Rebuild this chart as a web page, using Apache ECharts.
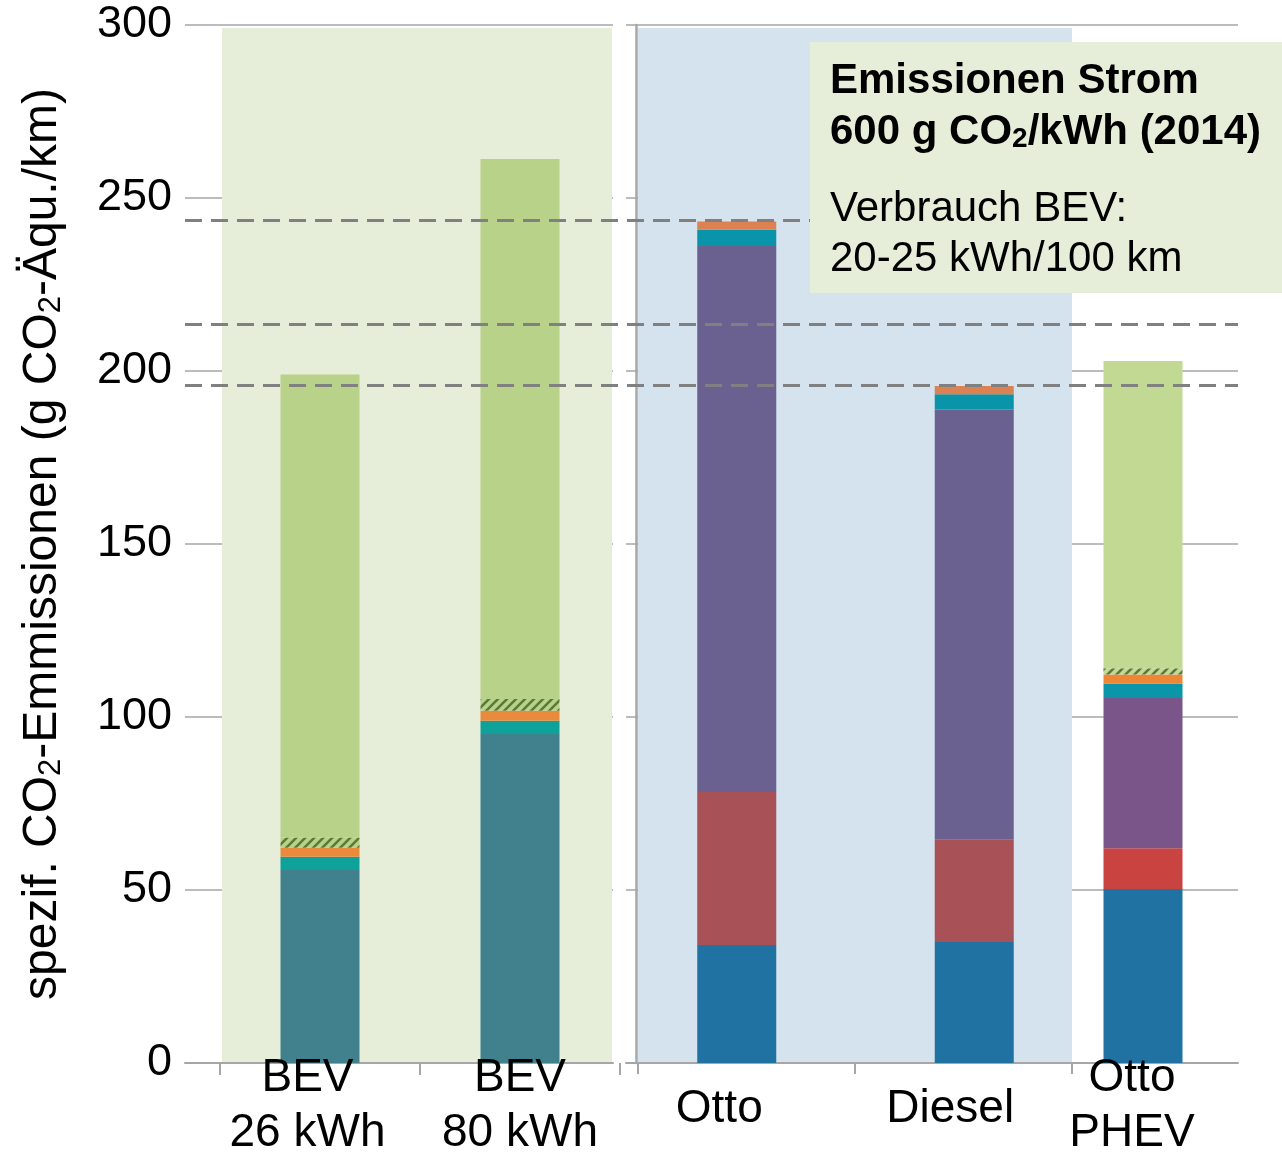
<!DOCTYPE html>
<html>
<head>
<meta charset="utf-8">
<title>spezif. CO2-Emissionen BEV / Otto / Diesel / PHEV</title>
<script src="https://cdn.jsdelivr.net/npm/echarts@6/dist/echarts.min.js"></script>
<style>
  html, body { margin: 0; padding: 0; background: #fff; }
  #chart { width: 1282px; height: 1156px; }
</style>
</head>
<body>
<div id="chart"></div>
<script>
// Kategorien
var bevCats = ['BEV\n26 kWh', 'BEV\n80 kWh'];
var iceCats = ['Otto', 'Diesel'];
var phevCats = ['Otto\nPHEV'];

// Werte in g CO2-Äqu./km, von unten nach oben gestapelt
var bevHerstellung = [55.8, 95.1];
var bevWartung = [3.8, 3.8];
var bevEntsorgung = [2.6, 2.9];
var bevSonstiges = [3.0, 3.4];   // schraffiert
var bevStrom = [133.8, 156.1];

var iceHerstellung = [34.1, 35.0];
var iceVorkette = [44.2, 29.5];
var iceVerbrennung = [157.8, 124.4];
var iceWartung = [4.7, 4.4];
var iceEntsorgung = [2.4, 2.4];

var phevHerstellung = [50.3];
var phevVorkette = [11.8];
var phevVerbrennung = [43.4];
var phevWartung = [4.2];
var phevEntsorgung = [2.6];
var phevSonstiges = [1.8];       // schraffiert
var phevStrom = [88.8];

// gestrichelte Vergleichslinien
var refLines = [243.5, 213.6, 196.0];

// y-Achse
var yMin = 0, yMax = 300, yStep = 50;

var FONT = '"Liberation Sans", Arial, sans-serif';
var GRID_COLOR = '#a6a6a6';

// Schraffur als Canvas-Muster
function hatch(bg, fg) {
	var c = document.createElement('canvas');
	c.width = 9; c.height = 9;
	var ctx = c.getContext('2d');
	ctx.fillStyle = bg;
	ctx.fillRect(0, 0, 9, 9);
	ctx.strokeStyle = fg;
	ctx.lineWidth = 2.6;
	ctx.beginPath();
	ctx.moveTo(-1, 10); ctx.lineTo(10, -1);
	ctx.moveTo(-1, 1); ctx.lineTo(1, -1);
	ctx.moveTo(8, 10); ctx.lineTo(10, 8);
	ctx.stroke();
	return { image: c, repeat: 'repeat' };
}

function bar(name, idx, stack, data, color) {
	return {
		name: name,
		type: 'bar',
		xAxisIndex: idx,
		yAxisIndex: idx,
		stack: stack,
		barWidth: 79,
		data: data,
		silent: true,
		itemStyle: { color: color }
	};
}

function hiddenY(idx) {
	return { type: 'value', gridIndex: idx, min: yMin, max: yMax, show: false };
}

var TICK = { show: true, length: 12, lineStyle: { color: GRID_COLOR, width: 2 } };

// Achsenbeschriftung mit Versatz je Kategorie
function catAxis(idx, cats, margin, pads, tick) {
	var rich = {};
	pads.forEach(function(p, i) {
		rich['s' + i] = {
			fontFamily: FONT, fontSize: 46, lineHeight: 55, color: '#000',
			padding: p
		};
	});
	return {
		type: 'category',
		gridIndex: idx,
		data: cats,
		z: 3,
		axisLine: { show: false },
		axisTick: tick || { show: false },
		splitLine: { show: false },
		axisLabel: {
			margin: margin,
			interval: 0,
			formatter: function(v, i) {
				return v.split('\n').map(function(l) { return '{s' + i + '|' + l + '}'; }).join('\n');
			},
			rich: rich
		}
	};
}

var myChart = echarts.init(document.getElementById('chart'));

var nameRich = {
	t: { fontFamily: FONT, fontSize: 48, lineHeight: 64, verticalAlign: 'bottom', color: '#000' },
	s: { fontFamily: FONT, fontSize: 31, lineHeight: 31, verticalAlign: 'bottom', color: '#000' }
};
var boxRich = {
	b: { fontFamily: FONT, fontSize: 42, fontWeight: 'bold', lineHeight: 56, verticalAlign: 'bottom', fill: '#000' },
	s: { fontFamily: FONT, fontSize: 28, fontWeight: 'bold', lineHeight: 28, verticalAlign: 'bottom', fill: '#000' }
};

var option = {
	animation: false,
	backgroundColor: '#fff',
	textStyle: { fontFamily: FONT },
	grid: [
		{ left: 185, right: 669, top: 25, bottom: 93, outerBoundsMode: 'none' },   // 0 linke Achse
		{ left: 626, right: 44, top: 25, bottom: 93, outerBoundsMode: 'none' },    // 1 rechte Achse
		{ left: 222, right: 670, top: 28, bottom: 94, show: true, z: 1, borderWidth: 0,
			backgroundColor: '#e6edd8', outerBoundsMode: 'none' },                    // 2 Hintergrund BEV
		{ left: 638, right: 210, top: 28, bottom: 94, show: true, z: 1, borderWidth: 0,
			backgroundColor: '#d4e3ed', outerBoundsMode: 'none' },                    // 3 Hintergrund Verbrenner
		{ left: 220, right: 662, top: 25, bottom: 93, outerBoundsMode: 'none' },   // 4 BEV
		{ left: 618, right: 189, top: 25, bottom: 93, outerBoundsMode: 'none' },   // 5 Otto / Diesel
		{ left: 1048, right: 44, top: 25, bottom: 93, outerBoundsMode: 'none' },   // 6 PHEV
		{ left: 185, right: 44, top: 25, bottom: 93, outerBoundsMode: 'none' }     // 7 Linien
	],
	xAxis: [
		{ type: 'value', gridIndex: 0, min: 0, max: 1, axisLabel: { show: false }, axisTick: { show: false },
			splitLine: { show: false }, axisLine: { show: true, lineStyle: { color: GRID_COLOR, width: 2 } } },
		{ type: 'value', gridIndex: 1, min: 0, max: 1, axisLabel: { show: false }, axisTick: { show: false },
			splitLine: { show: false }, axisLine: { show: true, lineStyle: { color: GRID_COLOR, width: 2 } } },
		{ type: 'category', gridIndex: 2, data: [''], show: false },
		{ type: 'category', gridIndex: 3, data: ['', ''], axisLabel: { show: false }, axisLine: { show: false },
			axisTick: TICK },
		catAxis(4, bevCats, -12, [[0, 25, 0, 0], [0, 0, 0, 0]], TICK),
		catAxis(5, iceCats, 19, [[0, 35, 0, 0], [0, 48, 0, 0]]),
		catAxis(6, phevCats, -12, [[0, 22, 0, 0]]),
		{ type: 'category', gridIndex: 7, data: [''], show: false }
	],
	yAxis: [
		{
			type: 'value', gridIndex: 0, min: yMin, max: yMax, interval: yStep,
			axisLine: { show: false }, axisTick: { show: false },
			axisLabel: { fontSize: 45, color: '#000', margin: 13, fontFamily: FONT },
			splitLine: { lineStyle: { color: GRID_COLOR, width: 1.5 } },
			name: '{t|spezif. CO}{s|2}{t|-Emmissionen (g CO}{s|2}{t|-Äqu./km)}',
			nameLocation: 'middle',
			nameRotate: 90,
			nameGap: 118,
			nameTextStyle: { rich: nameRich }
		},
		{
			type: 'value', gridIndex: 1, min: yMin, max: yMax, interval: yStep, offset: -10,
			axisLine: { show: true, lineStyle: { color: GRID_COLOR, width: 2.5 } },
			axisTick: { show: false }, axisLabel: { show: false },
			splitLine: { lineStyle: { color: GRID_COLOR, width: 1.5 } }
		},
		hiddenY(2),
		hiddenY(3),
		hiddenY(4),
		hiddenY(5),
		hiddenY(6),
		hiddenY(7)
	],
	series: [
		bar('Herstellung', 4, 'bev', bevHerstellung, '#41818e'),
		bar('Wartung', 4, 'bev', bevWartung, '#0ea29b'),
		bar('Entsorgung', 4, 'bev', bevEntsorgung, '#e98a3c'),
		bar('Sonstiges', 4, 'bev', bevSonstiges, hatch('#b9d28a', '#5b7a38')),
		bar('Strom', 4, 'bev', bevStrom, '#b9d28a'),

		bar('Herstellung', 5, 'ice', iceHerstellung, '#2072a3'),
		bar('Vorkette', 5, 'ice', iceVorkette, '#a85157'),
		bar('Verbrennung', 5, 'ice', iceVerbrennung, '#6a6191'),
		bar('Wartung', 5, 'ice', iceWartung, '#0a94a9'),
		bar('Entsorgung', 5, 'ice', iceEntsorgung, '#db8152'),

		bar('Herstellung', 6, 'phev', phevHerstellung, '#2072a3'),
		bar('Vorkette', 6, 'phev', phevVorkette, '#c94341'),
		bar('Verbrennung', 6, 'phev', phevVerbrennung, '#7a5589'),
		bar('Wartung', 6, 'phev', phevWartung, '#0a96a8'),
		bar('Entsorgung', 6, 'phev', phevEntsorgung, '#ef8636'),
		bar('Sonstiges', 6, 'phev', phevSonstiges, hatch('#c2d993', '#5b7a38')),
		bar('Strom', 6, 'phev', phevStrom, '#c2d993'),

		{
			type: 'line', xAxisIndex: 7, yAxisIndex: 7, data: [], z: 10, silent: true,
			markLine: {
				symbol: 'none', silent: true, label: { show: false },
				lineStyle: { color: '#808080', width: 3, type: [17, 9] },
				data: refLines.map(function(v) { return { yAxis: v }; })
			}
		}
	],
	graphic: [{
		type: 'group', left: 810, top: 42, z: 100,
		children: [
			{ type: 'rect', z: 100, shape: { x: 0, y: 0, width: 472, height: 251 }, style: { fill: '#e6edd8' } },
			{ type: 'text', z: 101, x: 20, y: 4, style: { text: '{b|Emissionen Strom}', rich: boxRich, verticalAlign: 'top' } },
			{ type: 'text', z: 101, x: 20, y: 55, style: { text: '{b|600 g CO}{s|2}{b|/kWh (2014)}', rich: boxRich, verticalAlign: 'top' } },
			{ type: 'text', z: 101, x: 20, y: 146, style: { text: 'Verbrauch BEV:', fontFamily: FONT, fontSize: 42, fill: '#000', verticalAlign: 'top' } },
			{ type: 'text', z: 101, x: 20, y: 196, style: { text: '20-25 kWh/100 km', fontFamily: FONT, fontSize: 42, fill: '#000', verticalAlign: 'top' } }
		]
	}]
};

myChart.setOption(option);
</script>
</body>
</html>
